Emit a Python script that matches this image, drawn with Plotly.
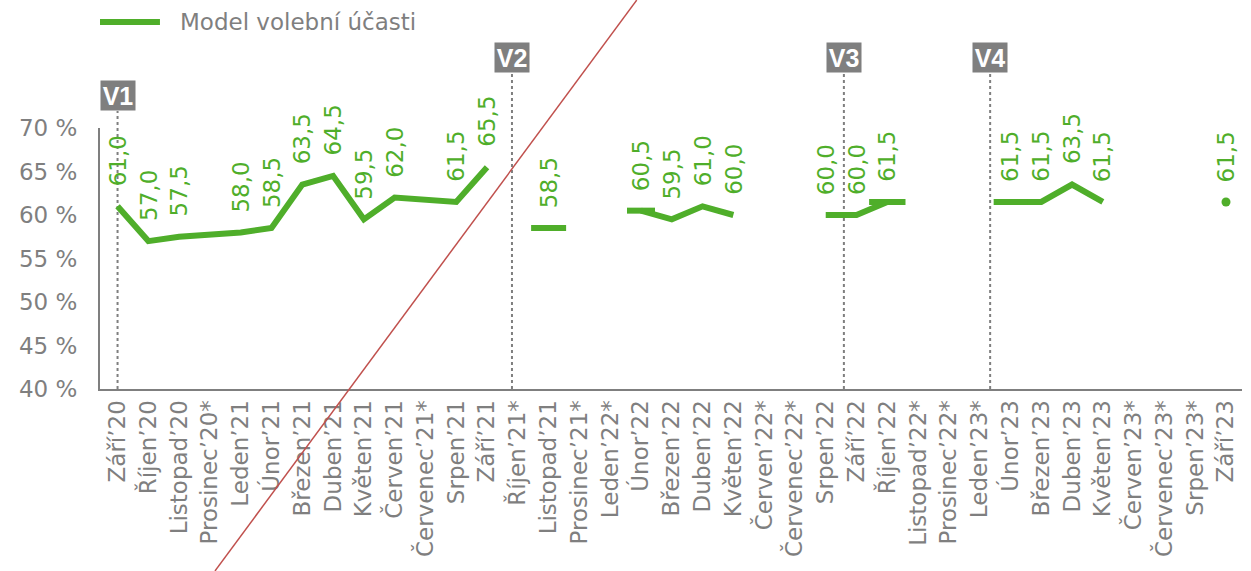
import plotly.graph_objects as go

# ---------------- data ----------------
categories = [
    "Září’20", "Říjen’20", "Listopad’20", "Prosinec’20*", "Leden’21", "Únor’21",
    "Březen’21", "Duben’21", "Květen’21", "Červen’21", "Červenec’21*", "Srpen’21",
    "Září’21", "Říjen’21*", "Listopad’21", "Prosinec’21*", "Leden’22*", "Únor’22",
    "Březen’22", "Duben’22", "Květen’22", "Červen’22*", "Červenec’22*", "Srpen’22",
    "Září’22", "Říjen’22", "Listopad’22*", "Prosinec’22*", "Leden’23*", "Únor’23",
    "Březen’23", "Duben’23", "Květen’23", "Červen’23*", "Červenec’23*", "Srpen’23*",
    "Září’23",
]
turnout = [
    61.0, 57.0, 57.5, 57.75, 58.0, 58.5,
    63.5, 64.5, 59.5, 62.0, 61.75, 61.5,
    65.5, None, 58.5, None, None, 60.5,
    59.5, 61.0, 60.0, None, None, 60.0,
    60.0, 61.5, None, None, None, 61.5,
    61.5, 63.5, 61.5, None, None, None,
    61.5,
]
series_name = "Model volební účasti"

# segment-end points drawn as short flat stubs / dots
end_points = ["Listopad’21", "Únor’22", "Říjen’22", "Únor’23", "Září’23"]

# election events (position on the category scale)
event_names = ["V1", "V2", "V3", "V4"]
event_pos = [0.0, 12.81, 23.59, 28.34]

y_tick_vals = [40, 45, 50, 55, 60, 65, 70]
y_tick_text = ["40 %", "45 %", "50 %", "55 %", "60 %", "65 %", "70 %"]

# ---------------- style ----------------
GREEN = "#4FAE2A"
GRAY = "#7F7F7F"
RED = "#C0504D"
FONT = "DejaVu Sans"
FS = 23

fig = go.Figure()

fig.add_trace(go.Scatter(
    x=categories, y=turnout, mode="lines", name=series_name,
    line=dict(color=GREEN, width=6), connectgaps=False,
    showlegend=False, hoverinfo="skip",
))

end_y = [turnout[categories.index(c)] for c in end_points]
fig.add_trace(go.Scatter(
    x=end_points, y=end_y, mode="markers", showlegend=False, hoverinfo="skip",
    marker=dict(
        symbol=["line-ew", "line-ew", "line-ew", "line-ew", "circle"],
        size=[25, 20, 26, 24, 9],
        color=GREEN, opacity=1,
        line=dict(color=GREEN, width=[6, 6, 6, 6, 0]),
    ),
))

annotations = []
# data labels (months marked * carry no label)
for i, (c, v) in enumerate(zip(categories, turnout)):
    if v is None or c.endswith("*"):
        continue
    annotations.append(dict(
        x=i, y=v, xref="x", yref="y", text=f"{v:.1f}".replace(".", ","),
        textangle=-90, showarrow=False, xanchor="center", yanchor="bottom",
        yshift=18, font=dict(family=FONT, size=FS, color=GREEN),
    ))

shapes = []
# event markers
for name, pos in zip(event_names, event_pos):
    box_y = 1.065 if name == "V1" else 1.21
    shapes.append(dict(
        type="line", xref="x", yref="paper", x0=pos, x1=pos, y0=0, y1=box_y,
        line=dict(color=GRAY, width=2, dash="dot"), layer="below",
    ))
    annotations.append(dict(
        x=pos, y=box_y, xref="x", yref="paper", text=f"<b>{name}</b>",
        showarrow=False, xanchor="center", yanchor="bottom",
        width=32, height=27, bgcolor=GRAY, borderpad=1,
        font=dict(family="Liberation Sans", size=25, color="white"),
    ))

# legend (drawn manually to get the long line sample)
shapes.append(dict(
    type="line", xref="paper", yref="paper", x0=0.0, x1=0.0525, y0=1.406, y1=1.406,
    line=dict(color=GREEN, width=6),
))
annotations.append(dict(
    x=0.068, y=1.406, xref="paper", yref="paper", text=series_name,
    showarrow=False, xanchor="left", yanchor="middle",
    font=dict(family=FONT, size=FS, color=GRAY),
))

# thin red diagonal stroke across the chart
shapes.append(dict(
    type="line", xref="paper", yref="paper", x0=0.1007, y0=-0.697, x1=0.470, y1=1.490,
    line=dict(color=RED, width=1.5),
))

fig.update_layout(
    width=1251, height=571,
    margin=dict(l=100, r=9, t=128, b=182),
    paper_bgcolor="white", plot_bgcolor="white",
    font=dict(family=FONT, size=FS, color=GRAY),
    showlegend=False,
    shapes=shapes, annotations=annotations,
)
fig.update_xaxes(
    type="category", categoryorder="array", categoryarray=categories,
    range=[-0.57, 36.52], tickangle=-90, tickmode="array",
    tickvals=categories, ticktext=categories,
    showgrid=False, zeroline=False, showline=True, linecolor=GRAY, linewidth=2,
    ticks="", tickfont=dict(family=FONT, size=FS, color=GRAY),
)
fig.update_yaxes(
    range=[40, 70], tickvals=y_tick_vals, ticktext=y_tick_text,
    showgrid=False, zeroline=False, showline=True, linecolor=GRAY, linewidth=2,
    ticks="", ticklabelstandoff=16, tickfont=dict(family=FONT, size=FS, color=GRAY),
)

fig.write_html(
    "out.html",
    config={"displayModeBar": False},
    post_script="document.body.style.margin='0';",
)
